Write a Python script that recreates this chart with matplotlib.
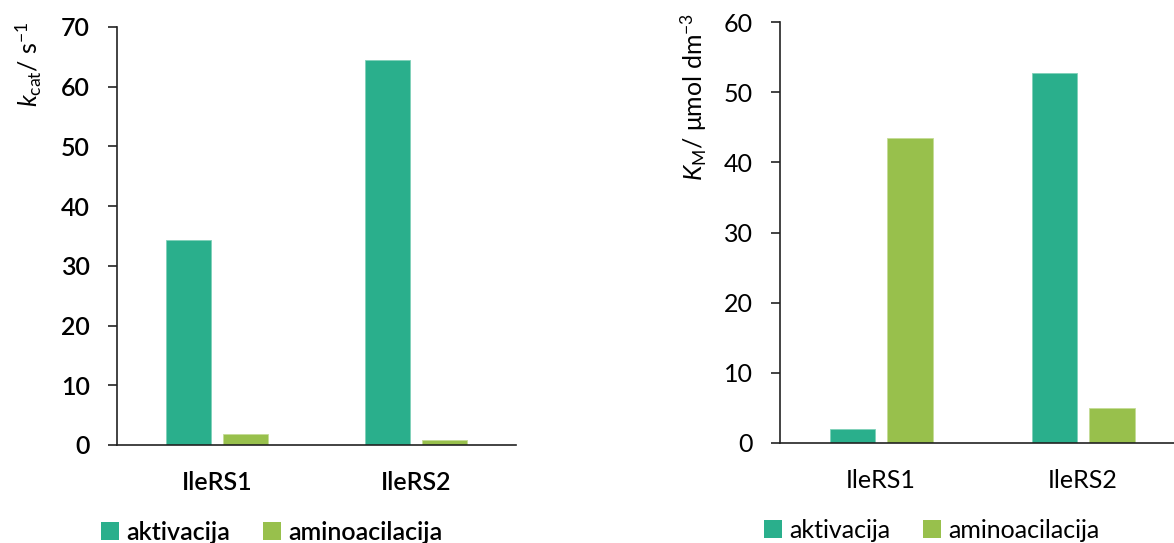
import numpy as np
import matplotlib
matplotlib.use("Agg")
import matplotlib.pyplot as plt
from matplotlib.patches import Patch

plt.rcParams['font.family'] = ['Lato', 'DejaVu Sans']
plt.rcParams['mathtext.fontset'] = 'custom'
plt.rcParams['mathtext.rm'] = 'Lato'
plt.rcParams['mathtext.it'] = 'Lato:italic'
plt.rcParams['mathtext.bf'] = 'Lato:bold'

# data
enzymes = ['IleRS1', 'IleRS2']
series = ['aktivacija', 'aminoacilacija']
kcat_aktivacija = [34.3, 64.5]
kcat_aminoacilacija = [1.8, 0.9]
km_aktivacija = [2.0, 52.7]
km_aminoacilacija = [43.4, 5.0]

teal = '#2AAF8C'
green = '#98C04C'
W, H = 1174, 543
fs = 18

fig = plt.figure(figsize=(W / 100, H / 100), dpi=100)


def px_axes(left, right, top, bottom):
    return fig.add_axes([left / W, 1 - bottom / H, (right - left) / W, (bottom - top) / H])


def style(ax, weight):
    for s in ['top', 'right']:
        ax.spines[s].set_visible(False)
    for s in ['left', 'bottom']:
        ax.spines[s].set_color('#222222')
        ax.spines[s].set_linewidth(1.2)
    ax.tick_params(axis='y', length=6.5, width=1.2, pad=13, labelsize=fs, color='#222222')
    ax.tick_params(axis='x', length=0, pad=19, labelsize=fs)
    for lab in ax.get_xticklabels() + ax.get_yticklabels():
        lab.set_fontweight(weight)


x = np.arange(len(enzymes))
bw = 0.225
off = 0.1425

# left: kcat
ax1 = px_axes(117, 516, 27, 445)
ax1.bar(x - off, kcat_aktivacija, bw, color=teal, edgecolor='#7fd1b8', linewidth=0.6)
ax1.bar(x + off, kcat_aminoacilacija, bw, color=green, edgecolor='#c4dc96', linewidth=0.6)
ax1.set_xlim(-0.5, 1.5)
ax1.set_ylim(0, 70)
ax1.set_yticks(range(0, 71, 10))
ax1.set_xticks(x)
ax1.set_xticklabels(enzymes)
style(ax1, 'semibold')
fig.text(29 / W, 1 - 64 / H, r'$\mathit{k}_\mathrm{cat}$/ s$^\mathrm{-1}$',
         rotation=90, ha='center', va='center', fontsize=fs)

# right: KM
ax2 = px_axes(780, 1174, 22, 443)
ax2.bar(x - off, km_aktivacija, bw, color=teal, edgecolor='#7fd1b8', linewidth=0.6)
ax2.bar(x + off, km_aminoacilacija, bw, color=green, edgecolor='#c4dc96', linewidth=0.6)
ax2.set_xlim(-0.5, 1.45)
ax2.set_ylim(0, 60)
ax2.set_yticks(range(0, 61, 10))
ax2.set_xticks(x)
ax2.set_xticklabels(enzymes)
style(ax2, 'normal')
fig.text(694 / W, 1 - 97 / H, r'$\mathit{K}_\mathrm{M}$/ μmol dm$^\mathrm{-3}$',
         rotation=90, ha='center', va='center', fontsize=fs)

handles = [Patch(facecolor=teal), Patch(facecolor=green)]
for cx, cy, wt in [(101, 532, 'semibold'), (764, 530, 'normal')]:
    leg = fig.legend(handles, series, loc='center left', bbox_to_anchor=(cx / W, 1 - cy / H),
                     ncol=2, frameon=False, fontsize=fs, handlelength=0.72, handleheight=0.72,
                     handletextpad=0.3, columnspacing=1.3, borderpad=0, borderaxespad=0)
    for t in leg.get_texts():
        t.set_fontweight(wt)

fig.savefig('out.png', dpi=100)
